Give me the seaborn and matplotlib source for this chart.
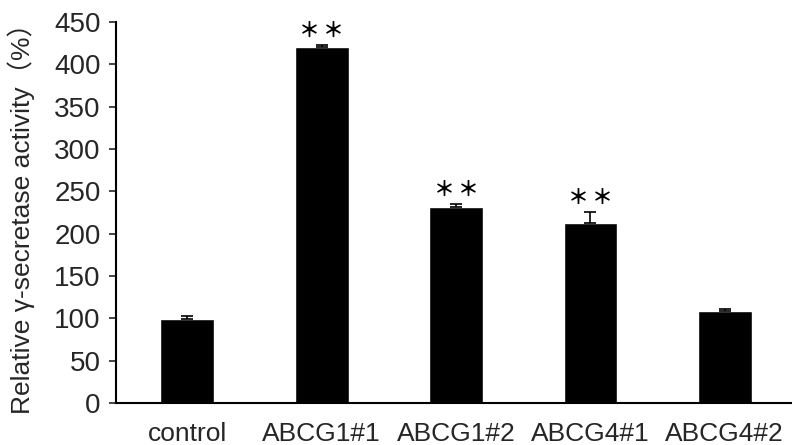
import matplotlib
matplotlib.use('Agg')
import matplotlib.pyplot as plt
import seaborn as sns
import numpy as np
import pandas as pd

# ── data ──
groups = ['control', 'ABCG1#1', 'ABCG1#2', 'ABCG4#1', 'ABCG4#2']
activity = [99, 421, 232, 213, 109]
sem = [4, 1.5, 3, 12.5, 2.5]
n_stars = [0, 2, 2, 2, 0]

df = pd.DataFrame({'group': groups, 'activity': activity})

# ── style ──
sns.set_style('white')
plt.rcParams['font.family'] = ['Liberation Sans', 'Noto Sans CJK JP', 'DejaVu Sans']

fig = plt.figure(figsize=(7.92, 4.45), dpi=100)
ax = fig.add_axes([116 / 792, 1 - 403 / 445, 1 - 116 / 792, (403 - 22) / 445])

sns.barplot(data=df, x='group', y='activity', color='black', width=0.4,
            errorbar=None, ax=ax, saturation=1)

pos = np.arange(len(groups))
ax.errorbar(pos, activity, yerr=[np.zeros(len(sem)), sem], fmt='none',
            ecolor='black', elinewidth=1.2, capsize=4, capthick=1.2)

# significance marks: one asterisk glyph each, spaced apart
for x, v, e, n in zip(pos, activity, sem, n_stars):
    for k in range(n):
        dx = (k - (n - 1) / 2) * 0.18
        ax.text(x + dx, v + e + 17, '＊', ha='center', va='center',
                fontsize=15, fontweight='bold', color='black', clip_on=False,
                family=['Noto Sans CJK JP'])

ax.set_ylim(0, 450)
ax.set_xlim(-0.53, 4.5)
ax.set_yticks(np.arange(0, 451, 50))
ax.set_xlabel('')
ax.set_ylabel('Relative γ-secretase activity（%）', fontsize=19, labelpad=14)
ax.tick_params(axis='y', direction='out', length=5, width=1.2, labelsize=20,
               left=True, pad=6)
ax.tick_params(axis='x', length=0, labelsize=19, pad=14)
for side in ['top', 'right']:
    ax.spines[side].set_visible(False)
for side in ['left', 'bottom']:
    ax.spines[side].set_color('black')
    ax.spines[side].set_linewidth(1.5)

fig.savefig('out.png', dpi=100)
